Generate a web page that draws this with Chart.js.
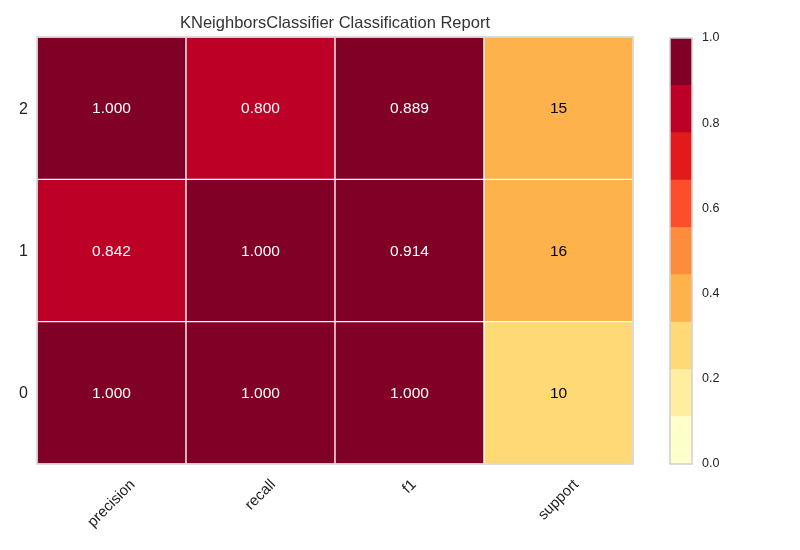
<!DOCTYPE html>
<html>
<head>
<meta charset="utf-8">
<title>KNeighborsClassifier Classification Report</title>
<script src="https://cdn.jsdelivr.net/npm/chart.js@4/dist/chart.umd.min.js"></script>
<style>
  body { margin: 0; background: #fff; }
  #wrap { position: relative; width: 800px; height: 550px; }
  #wrap canvas { position: absolute; left: 0; top: 0; }
</style>
</head>
<body>
<div id="wrap">
  <canvas id="heat" width="800" height="550"></canvas>
  <canvas id="cbar" width="800" height="550"></canvas>
</div>
<script>
// Data.
const classes = ['0', '1', '2'];
const metrics = ['precision', 'recall', 'f1', 'support'];
const precision = [1.000, 0.842, 1.000];
const recall = [1.000, 1.000, 0.800];
const f1 = [1.000, 0.914, 0.889];
const support = [10, 16, 15];
const cbarTicks = [0.0, 0.2, 0.4, 0.6, 0.8, 1.0];

// YlOrRd, 9 levels.
const levels = ['#ffffcc', '#ffeda0', '#fed976', '#feb24c', '#fd8d3c', '#fc4e2a', '#e31a1c', '#bd0026', '#800026'];
const FONT = '"Liberation Sans", Arial, sans-serif';

const totalSupport = support.reduce((a, b) => a + b, 0);

function level(v) {
  return Math.min(levels.length - 1, Math.max(0, Math.floor(v * levels.length)));
}

function rowValues(c) {
  return [precision[c], recall[c], f1[c], support[c]];
}

function scaled(c, m) {
  let v = rowValues(c)[m];
  return m === 3 ? v / totalSupport : v;
}

// One floating-bar dataset per class row.
const datasets = classes.map(function (cls, c) {
  return {
    label: cls,
    data: metrics.map(() => [c, c + 1]),
    backgroundColor: metrics.map((m, i) => levels[level(scaled(c, i))]),
    borderColor: '#ffffff',
    borderWidth: 1,
    borderSkipped: false,
    grouped: false,
    barPercentage: 1,
    categoryPercentage: 1
  };
});

const heatLabels = {
  id: 'heatLabels',
  afterDatasetsDraw(chart) {
    const ctx = chart.ctx;
    const area = chart.chartArea;
    const xs = chart.scales.x;
    const ys = chart.scales.y;
    ctx.save();
    // Frame.
    ctx.strokeStyle = '#d0d0d0';
    ctx.lineWidth = 1.5;
    ctx.strokeRect(area.left, area.top, area.right - area.left, area.bottom - area.top);

    // Cell values.
    ctx.font = '15.5px ' + FONT;
    ctx.textAlign = 'center';
    ctx.textBaseline = 'middle';
    chart.data.datasets.forEach(function (ds, c) {
      chart.getDatasetMeta(c).data.forEach(function (bar, m) {
        let v = rowValues(c)[m];
        let txt = m === 3 ? String(v) : v.toFixed(3);
        ctx.fillStyle = level(scaled(c, m)) < 5 ? '#000000' : '#ffffff';
        ctx.fillText(txt, bar.x, (bar.y + bar.base) / 2 + 1);
      });
    });

    // Y labels.
    ctx.fillStyle = '#222222';
    ctx.font = '16px ' + FONT;
    ctx.textAlign = 'right';
    classes.forEach(function (cls, c) {
      ctx.fillText(cls, area.left - 9, ys.getPixelForValue(c + 0.5) + 1);
    });

    // X labels rotated 45 degrees, centred under each column.
    ctx.font = '15px ' + FONT;
    ctx.textAlign = 'center';
    metrics.forEach(function (m, i) {
      let x = xs.getPixelForValue(i);
      let w = ctx.measureText(m).width;
      let h = 15;
      let cy = area.bottom + 13 + (w + h) * Math.SQRT1_2 / 2;
      ctx.save();
      ctx.translate(x, cy);
      ctx.rotate(-Math.PI / 4);
      ctx.fillText(m, 0, 0);
      ctx.restore();
    });

    // Title.
    ctx.fillStyle = '#333333';
    ctx.font = '16.5px ' + FONT;
    ctx.textBaseline = 'alphabetic';
    ctx.fillText('KNeighborsClassifier Classification Report', (area.left + area.right) / 2, 28);
    ctx.restore();
  }
};

new Chart(document.getElementById('heat'), {
  type: 'bar',
  data: { labels: metrics, datasets: datasets },
  options: {
    responsive: false,
    animation: false,
    devicePixelRatio: 1,
    layout: { padding: { left: 37, right: 167, top: 37, bottom: 86 } },
    plugins: { legend: { display: false }, tooltip: { enabled: false }, title: { display: false } },
    scales: {
      x: { display: false, offset: true },
      y: { display: false, min: 0, max: classes.length }
    }
  },
  plugins: [heatLabels]
});

// Colour bar.
const cbarSets = levels.map(function (col, i) {
  return {
    data: [[i / levels.length, (i + 1) / levels.length]],
    backgroundColor: col,
    borderWidth: 0,
    grouped: false,
    barPercentage: 1,
    categoryPercentage: 1
  };
});

const cbarLabels = {
  id: 'cbarLabels',
  afterDatasetsDraw(chart) {
    const ctx = chart.ctx;
    const area = chart.chartArea;
    const ys = chart.scales.y;
    ctx.save();
    ctx.strokeStyle = '#d0d0d0';
    ctx.lineWidth = 1.5;
    ctx.strokeRect(area.left, area.top, area.right - area.left, area.bottom - area.top);
    ctx.fillStyle = '#222222';
    ctx.font = '12.5px ' + FONT;
    ctx.textAlign = 'left';
    ctx.textBaseline = 'middle';
    cbarTicks.forEach(function (t) {
      ctx.fillText(t.toFixed(1), area.right + 10, ys.getPixelForValue(t));
    });
    ctx.restore();
  }
};

new Chart(document.getElementById('cbar'), {
  type: 'bar',
  data: { labels: [''], datasets: cbarSets },
  options: {
    responsive: false,
    animation: false,
    devicePixelRatio: 1,
    layout: { padding: { left: 670, right: 108, top: 38, bottom: 86 } },
    plugins: { legend: { display: false }, tooltip: { enabled: false } },
    scales: {
      x: { display: false, offset: true },
      y: { display: false, min: 0, max: 1 }
    }
  },
  plugins: [cbarLabels]
});
</script>
</body>
</html>
